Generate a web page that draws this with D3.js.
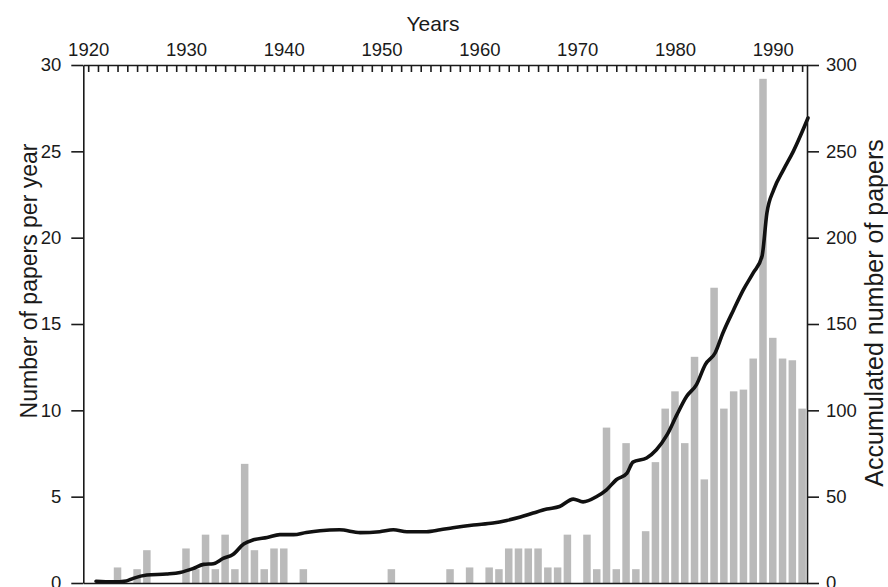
<!DOCTYPE html>
<html>
<head>
  <style>
    body{
      margin:0;
      background:#fff;
    }
    svg text{
      font-family: "Liberation Sans", Arial, Helvetica, sans-serif;
      fill:#1a1a1a;
    }
    .axis path, .axis line{
      stroke:#1a1a1a;
      stroke-width:1.6px;
    }
    .axis text{
      font-size:18.5px;
    }
  </style>
  <script src="https://d3js.org/d3.v7.min.js"></script>
</head>
<body>
<div class="chart"></div>
<script>
// papers per year (only years with papers)
const barYears = [1923, 1925, 1926, 1930, 1931, 1932, 1933, 1934, 1935, 1936, 1937, 1938, 1939, 1940, 1942,
  1951, 1957, 1959, 1961, 1962, 1963, 1964, 1965, 1966, 1967, 1968, 1969, 1971, 1972, 1973, 1974, 1975,
  1976, 1977, 1978, 1979, 1980, 1981, 1982, 1983, 1984, 1985, 1986, 1987, 1988, 1989, 1990, 1991, 1992, 1993];
const barValues = [0.9, 0.8, 1.9, 2.0, 0.8, 2.8, 0.8, 2.8, 0.8, 6.9, 1.9, 0.8, 2.0, 2.0, 0.8,
  0.8, 0.8, 0.9, 0.9, 0.8, 2.0, 2.0, 2.0, 2.0, 0.9, 0.9, 2.8, 2.8, 0.8, 9.0, 0.8, 8.1,
  0.8, 3.0, 7.0, 10.1, 11.1, 8.1, 13.1, 6.0, 17.1, 10.1, 11.1, 11.2, 13.0, 29.2, 14.2, 13.0, 12.9, 10.1];

// accumulated number of papers
const accumYears = [1920.8, 1922.5, 1923.9, 1924.6, 1926, 1928, 1929.4, 1930.7, 1931.8, 1932.8, 1933.8, 1934.8,
  1935.9, 1936.9, 1938.3, 1939.6, 1941, 1942.3, 1943.7, 1945.7, 1947.8, 1949.8, 1951.2, 1952.6, 1954.6,
  1956, 1957.3, 1959.4, 1961.4, 1962.8, 1964.2, 1965.5, 1966.9, 1968.2, 1969.6, 1970.6, 1972, 1973, 1974,
  1975.1, 1975.7, 1977.1, 1978.1, 1979.2, 1980.2, 1981.2, 1982.2, 1983.1, 1984.1, 1984.9, 1986, 1987, 1988,
  1988.9, 1989.4, 1990.1, 1991.1, 1992.1, 1993.6];
const accumValues = [1, 0.7, 1.2, 2.7, 4.6, 5.2, 6.1, 8.3, 10.8, 11.2, 14.2, 16.5,
  22.6, 25, 26.4, 28, 28, 29.3, 30.3, 30.8, 29.2, 29.7, 30.8, 29.7, 29.7,
  30.8, 32, 33.6, 34.7, 36.2, 38.2, 40.5, 42.8, 44.3, 48.6, 47, 50.1, 54, 59.8,
  63.7, 70, 72.4, 77.2, 85.9, 97.5, 108.1, 114.9, 126.5, 133.2, 144.8, 158.3, 169.9, 179.6,
  189.2, 214.3, 227.8, 239.4, 250, 269.3];

const decadeTicks = [1920, 1930, 1940, 1950, 1960, 1970, 1980, 1990];
const yearTicks = d3.range(1920, 1994);
const leftTicks = [0, 5, 10, 15, 20, 25, 30];
const rightTicks = [0, 50, 100, 150, 200, 250, 300];

const width = 888;
const height = 587;
const plotLeft = 83.3, plotRight = 807, plotTop = 65, plotBottom = 583;

const svg = d3.select('.chart')
  .append('svg')
  .attr('width', width)
  .attr('height', height);

const x = d3.scaleLinear().domain([1919.5, 1993.5]).range([plotLeft, plotRight]);
const y = d3.scaleLinear().domain([0, 30]).range([plotBottom, plotTop]);
const yR = d3.scaleLinear().domain([0, 300]).range([plotBottom, plotTop]);

const barW = 7.5;

// bars
svg.append('g')
  .selectAll('rect')
  .data(barYears)
  .enter()
  .append('rect')
  .attr('x', d => x(d) - barW / 2)
  .attr('y', (d, i) => y(barValues[i]))
  .attr('width', barW)
  .attr('height', (d, i) => y(0) - y(barValues[i]))
  .attr('fill', '#bababa');

// accumulated line
const line = d3.line()
  .x(d => x(d[0]))
  .y(d => yR(d[1]))
  .curve(d3.curveMonotoneX);

svg.append('path')
  .datum(accumYears.map((d, i) => [d, accumValues[i]]))
  .attr('d', line)
  .attr('fill', 'none')
  .attr('stroke', '#111')
  .attr('stroke-width', 3.6)
  .attr('stroke-linejoin', 'round')
  .attr('stroke-linecap', 'round');

// axes
svg.append('g')
  .attr('class', 'axis')
  .attr('transform', `translate(${plotLeft},0)`)
  .call(d3.axisLeft(y).tickValues(leftTicks).tickSize(12).tickSizeOuter(0).tickPadding(10));

svg.append('g')
  .attr('class', 'axis')
  .attr('transform', `translate(${plotRight},0)`)
  .call(d3.axisRight(yR).tickValues(rightTicks).tickSize(12).tickSizeOuter(0).tickPadding(7));

svg.append('g')
  .attr('class', 'axis')
  .attr('transform', `translate(0,${plotTop})`)
  .call(d3.axisTop(x).tickValues(yearTicks).tickSize(-7).tickSizeOuter(0).tickFormat(''));

svg.append('g')
  .attr('class', 'axis')
  .attr('transform', `translate(0,${plotTop})`)
  .call(d3.axisTop(x).tickValues(decadeTicks).tickSize(0).tickPadding(9).tickFormat(d3.format('d')))
  .call(g => g.select('.domain').remove());

svg.append('g')
  .attr('class', 'axis')
  .attr('transform', `translate(0,${plotBottom})`)
  .call(d3.axisBottom(x).tickValues([]).tickSizeOuter(0));

// titles
svg.append('text')
  .attr('x', 433)
  .attr('y', 31)
  .attr('text-anchor', 'middle')
  .style('font-size', '21px')
  .text('Years');

svg.append('text')
  .attr('transform', 'translate(37,281) rotate(-90)')
  .attr('text-anchor', 'middle')
  .style('font-size', '23px')
  .text('Number of papers per year');

svg.append('text')
  .attr('transform', 'translate(883,313) rotate(-90)')
  .attr('text-anchor', 'middle')
  .style('font-size', '25px')
  .text('Accumulated number of papers');
</script>
</body>
</html>
